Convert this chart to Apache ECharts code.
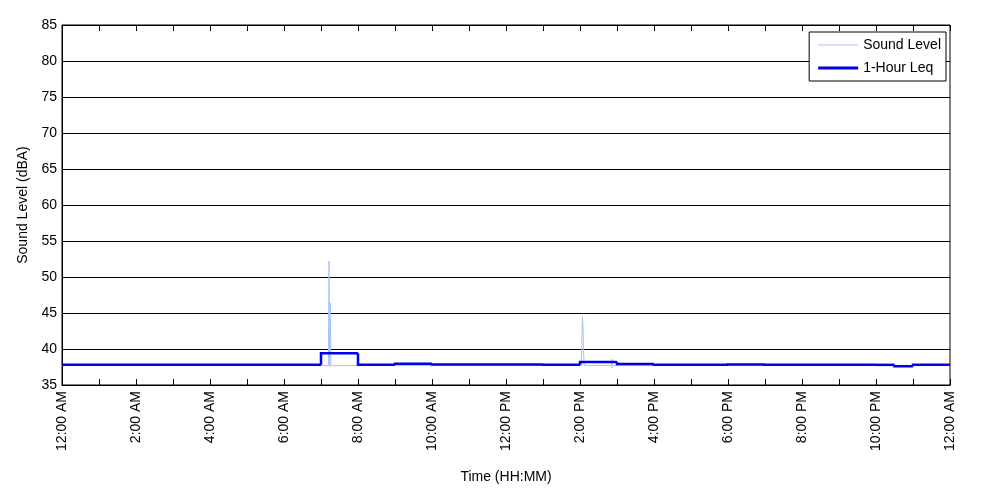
<!DOCTYPE html>
<html>
<head>
<meta charset="utf-8">
<script src="https://cdn.jsdelivr.net/npm/echarts@6/dist/echarts.min.js"></script>
<style>
  html, body { margin: 0; padding: 0; background: #fff; }
  #chart { width: 1000px; height: 500px; }
</style>
</head>
<body>
<div id="chart"></div>
<script>
// x values are minutes after midnight
const hourTicks = ['12:00 AM', '', '2:00 AM', '', '4:00 AM', '', '6:00 AM', '', '8:00 AM', '', '10:00 AM', '',
  '12:00 PM', '', '2:00 PM', '', '4:00 PM', '', '6:00 PM', '', '8:00 PM', '', '10:00 PM', '', '12:00 AM']

// 1-hour Leq, each value held from its start time to the next start (last one to midnight)
const leqStarts = [0, 60, 120, 180, 240, 300, 360, 420, 480, 540, 600, 660, 720, 780, 840, 900,
  960, 1020, 1080, 1140, 1200, 1260, 1320, 1350, 1380]
const leqValues = [37.8, 37.8, 37.8, 37.8, 37.8, 37.8, 37.8, 39.4, 37.8, 37.95, 37.85, 37.85, 37.85, 37.8, 38.2, 37.9,
  37.8, 37.8, 37.85, 37.8, 37.8, 37.8, 37.8, 37.6, 37.8]

// measured sound level (mostly flat, two short events)
const levelTimes = [0, 432, 433, 434, 435, 436, 842, 843, 844, 845, 846, 847, 891, 891.5, 892, 893, 1440]
const levelValues = [37.7, 37.7, 52.2, 37.5, 46.4, 37.7, 37.7, 41.2, 44.5, 42.6, 39.0, 37.7, 37.7, 38.6, 37.4, 37.7, 37.7]

const LEQ_COLOR = '#0000ee'
const LEVEL_COLOR = '#aac2fa'
const font = 'Liberation Sans, Arial, sans-serif'

// [start, end, value, previous value]
const leqSegments = leqStarts.map((t, i) => [
  t,
  i + 1 < leqStarts.length ? leqStarts[i + 1] : 1440,
  leqValues[i],
  i > 0 ? leqValues[i - 1] : leqValues[i],
])

const chart = echarts.init(document.getElementById('chart'), null, { renderer: 'canvas' })

const xBase = {
  type: 'value',
  min: 0,
  max: 1440,
  interval: 60,
  axisLine: { show: true, lineStyle: { color: '#000', width: 1 } },
  axisTick: { show: true, inside: true, length: 6, lineStyle: { color: '#000' } },
  splitLine: { show: false },
}

chart.setOption({
  backgroundColor: '#fff',
  animation: false,
  textStyle: { fontFamily: font },
  grid: { left: 62, right: 50, top: 25, bottom: 115, show: true, borderColor: '#000', borderWidth: 1 },
  legend: {
    orient: 'vertical',
    right: 54,
    top: 32,
    backgroundColor: '#fff',
    borderColor: '#000',
    borderWidth: 1,
    padding: [6, 5, 6, 9],
    itemGap: 9,
    itemWidth: 40,
    itemHeight: 10,
    textStyle: { color: '#000', fontSize: 14, fontFamily: font },
    data: [
      { name: 'Sound Level', icon: 'path://M0,0 L40,0 L40,1 L0,1 Z', itemStyle: { color: LEVEL_COLOR } },
      { name: '1-Hour Leq', icon: 'path://M0,0 L40,0 L40,3 L0,3 Z', itemStyle: { color: LEQ_COLOR } },
    ],
  },
  xAxis: [
    Object.assign({}, xBase, {
      position: 'bottom',
      name: 'Time (HH:MM)',
      nameLocation: 'middle',
      nameGap: 85,
      nameTextStyle: { color: '#000', fontSize: 14, fontFamily: font },
      axisLabel: {
        rotate: 90,
        color: '#000',
        fontSize: 14,
        fontFamily: font,
        margin: 6,
        formatter: (v) => hourTicks[Math.round(v / 60)] || '',
      },
    }),
    Object.assign({}, xBase, { position: 'top', axisLabel: { show: false } }),
  ],
  yAxis: {
    type: 'value',
    min: 35,
    max: 85,
    interval: 5,
    name: 'Sound Level (dBA)',
    nameLocation: 'middle',
    nameGap: 27,
    nameTextStyle: { color: '#000', fontSize: 14, fontFamily: font },
    axisLine: { show: true, lineStyle: { color: '#000' } },
    axisTick: { show: false },
    axisLabel: { color: '#000', fontSize: 14, fontFamily: font, margin: 5 },
    splitLine: { show: true, lineStyle: { color: '#000', width: 1 } },
  },
  series: [
    {
      name: 'Sound Level',
      type: 'line',
      data: levelTimes.map((t, i) => [t, levelValues[i]]),
      symbol: 'none',
      lineStyle: { color: LEVEL_COLOR, width: 1 },
      itemStyle: { color: LEVEL_COLOR },
      z: 2,
    },
    {
      name: '1-Hour Leq',
      type: 'custom',
      data: leqSegments,
      encode: { x: [0, 1], y: [2, 3] },
      itemStyle: { color: LEQ_COLOR },
      clip: true,
      z: 3,
      renderItem: (params, api) => {
        const from = api.coord([api.value(0), api.value(3)])
        const corner = api.coord([api.value(0), api.value(2)])
        const to = api.coord([api.value(1), api.value(2)])
        return {
          type: 'polyline',
          shape: { points: [from, corner, to] },
          style: { stroke: LEQ_COLOR, lineWidth: 2.5, fill: null },
        }
      },
    },
  ],
})
</script>
</body>
</html>
